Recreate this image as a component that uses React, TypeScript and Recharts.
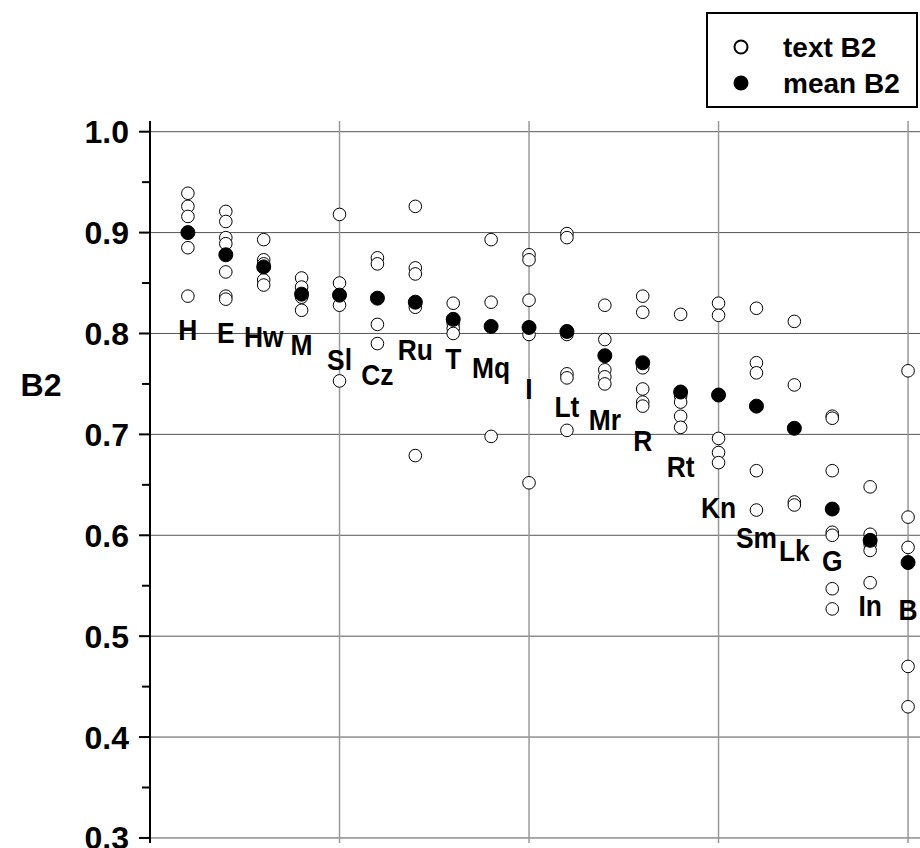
import React from "react";
import { ScatterChart, Scatter, XAxis, YAxis, ReferenceLine } from "recharts";

const categories = ["H", "E", "Hw", "M", "Sl", "Cz", "Ru", "T", "Mq", "I", "Lt", "Mr", "R", "Rt", "Kn", "Sm", "Lk", "G", "In", "B"];

const textValues: number[][] = [
  [0.939, 0.926, 0.916, 0.885, 0.837],
  [0.921, 0.911, 0.895, 0.889, 0.861, 0.837, 0.834],
  [0.893, 0.873, 0.869, 0.853, 0.848],
  [0.855, 0.846, 0.836, 0.823],
  [0.918, 0.85, 0.828, 0.753],
  [0.875, 0.869, 0.809, 0.79],
  [0.926, 0.865, 0.859, 0.826, 0.679],
  [0.83, 0.81, 0.805, 0.8],
  [0.893, 0.831, 0.698],
  [0.878, 0.873, 0.833, 0.799, 0.652],
  [0.899, 0.895, 0.799, 0.76, 0.756, 0.704],
  [0.828, 0.794, 0.764, 0.757, 0.75],
  [0.837, 0.821, 0.766, 0.745, 0.732, 0.728],
  [0.819, 0.738, 0.732, 0.718, 0.707],
  [0.83, 0.818, 0.696, 0.682, 0.672],
  [0.825, 0.771, 0.761, 0.664, 0.625],
  [0.812, 0.749, 0.633, 0.63],
  [0.718, 0.716, 0.664, 0.603, 0.6, 0.547, 0.527],
  [0.648, 0.601, 0.591, 0.585, 0.553],
  [0.763, 0.618, 0.588, 0.47, 0.43],
];

const meanValues = [0.9, 0.878, 0.866, 0.839, 0.838, 0.835, 0.831, 0.814, 0.807, 0.806, 0.802, 0.778, 0.771, 0.742, 0.739, 0.728, 0.706, 0.626, 0.595, 0.573];

const labelValues = [0.804, 0.801, 0.797, 0.789, 0.775, 0.76, 0.784, 0.776, 0.767, 0.746, 0.728, 0.715, 0.694, 0.668, 0.628, 0.598, 0.585, 0.575, 0.531, 0.527];

const majorTicks = [0.3, 0.4, 0.5, 0.6, 0.7, 0.8, 0.9, 1.0];
const minorTicks = [0.35, 0.45, 0.55, 0.65, 0.75, 0.85, 0.95];
const verticalGrid = [5, 10, 15, 20];

const textData = textValues.flatMap((vals, i) => vals.map((v) => ({ x: i + 1, y: v })));
const meanData = meanValues.map((v, i) => ({ x: i + 1, y: v }));
const labelData = labelValues.map((v, i) => ({ x: i + 1, y: v, name: categories[i] }));
const allTicks = [...majorTicks, ...minorTicks].sort((a, b) => a - b);

const FONT = "'Liberation Sans', Arial, Helvetica, sans-serif";

const YTick = (props: any) => {
  const { x, y, payload } = props;
  const v = payload.value;
  const major = majorTicks.some((m) => Math.abs(m - v) < 1e-6);
  return (
    <g>
      <line x1={x - (major ? 11 : 8)} x2={x} y1={y} y2={y} stroke="#000" strokeWidth={2} />
      {major && (
        <text x={x - 21} y={y} dy="0.36em" textAnchor="end" fontFamily={FONT} fontWeight="bold" fontSize={32} fill="#000">
          {v.toFixed(1)}
        </text>
      )}
    </g>
  );
};

const OpenDot = (props: any) => (
  <circle cx={props.cx} cy={props.cy} r={6.3} fill="#fff" stroke="#000" strokeWidth={1} />
);
const FilledDot = (props: any) => (
  <circle cx={props.cx} cy={props.cy} r={7} fill="#000" stroke="#000" strokeWidth={1} />
);
const LabelShape = (props: any) => (
  <g transform={`translate(${props.cx},${props.cy})`}>
    <text transform="scale(0.88,1)" x={0} y={0} dy="0.36em" textAnchor="middle" fontFamily={FONT} fontWeight="bold" fontSize={30} fill="#000">
      {props.payload.name}
    </text>
  </g>
);

const B2Label = (props: any) => {
  const vb = props.viewBox || { x: 0, y: 0 };
  return (
    <text x={vb.x + 41} y={vb.y + 263} dy="0.36em" textAnchor="middle" fontFamily={FONT} fontWeight="bold" fontSize={32} fill="#000">
      B2
    </text>
  );
};

export default function App() {
  return (
    <div style={{ position: "absolute", left: 0, top: 0, width: 920, height: 848, overflow: "hidden", background: "#fff" }}>
      <ScatterChart width={935} height={848} margin={{ top: 121, right: 8, bottom: 5, left: 0 }}>
        <XAxis type="number" dataKey="x" domain={[0, 20.5]} allowDataOverflow hide />
        <YAxis
          type="number"
          dataKey="y"
          domain={[0.295, 1.0106]}
          allowDataOverflow
          ticks={allTicks}
          interval={0}
          width={150}
          tickSize={0}
          tickMargin={0}
          tickLine={false}
          tick={<YTick />}
          axisLine={{ stroke: "#000", strokeWidth: 2 }}
          label={{ value: "B2", content: <B2Label /> }}
        />
        {majorTicks.map((v) => (
          <ReferenceLine key={"h" + v} y={v} stroke="#555" strokeWidth={1} />
        ))}
        {verticalGrid.map((v) => (
          <ReferenceLine key={"v" + v} x={v} stroke="#999" strokeWidth={1.5} />
        ))}
        <Scatter name="text B2" data={textData} shape={<OpenDot />} isAnimationActive={false} />
        <Scatter name="mean B2" data={meanData} shape={<FilledDot />} isAnimationActive={false} />
        <Scatter name="labels" data={labelData} shape={<LabelShape />} isAnimationActive={false} legendType="none" />
      </ScatterChart>
      <div style={{ position: "absolute", left: 706, top: 12, width: 212, height: 96, boxSizing: "border-box", border: "2px solid #000", background: "#fff" }}>
        <svg width={208} height={92} style={{ display: "block" }}>
          <circle cx={33} cy={33} r={6.5} fill="#fff" stroke="#000" strokeWidth={2} />
          <circle cx={33} cy={69} r={7.5} fill="#000" />
          <text x={75} y={43} fontFamily={FONT} fontWeight="bold" fontSize={28} fill="#000">text B2</text>
          <text x={75} y={79} fontFamily={FONT} fontWeight="bold" fontSize={28} fill="#000">mean B2</text>
        </svg>
      </div>
    </div>
  );
}
